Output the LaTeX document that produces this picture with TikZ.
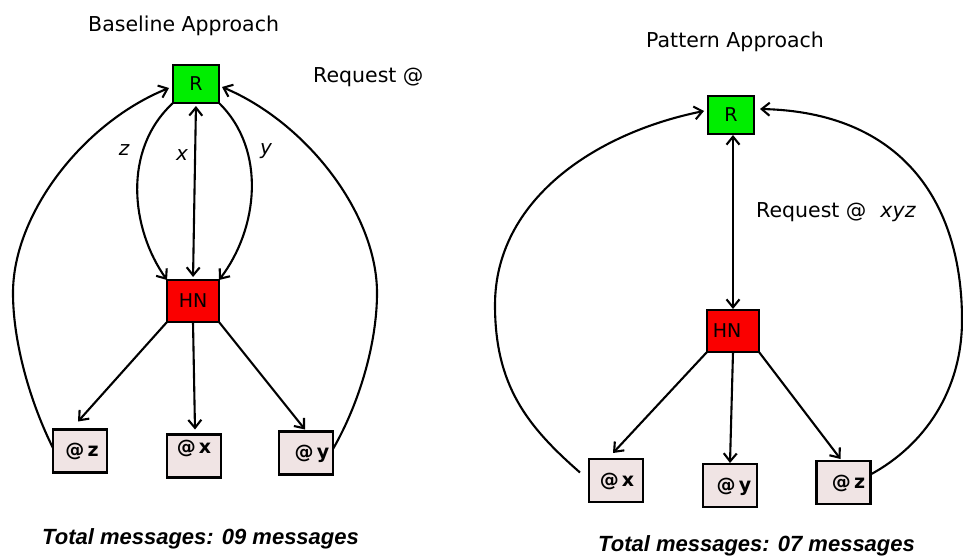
\documentclass[tikz,border=0pt]{standalone}
\usepackage{fontspec}
\setmainfont{DejaVu Sans}[ItalicFont={DejaVu Sans Oblique},BoldFont={DejaVu Sans Bold},BoldItalicFont={DejaVu Sans Bold Oblique}]
\newfontfamily\totalfont{Liberation Sans}
\usetikzlibrary{arrows.meta}
\definecolor{rgreen}{RGB}{0,238,0}
\definecolor{hred}{RGB}{250,0,0}
\definecolor{apink}{RGB}{240,228,228}
\begin{document}
\begin{tikzpicture}[x=1pt,y=-1pt,
  box/.style={draw=black,line width=2.8pt,inner sep=0pt,outer sep=0pt},
  rbox/.style={box,fill=rgreen,minimum width=46pt,minimum height=38pt,font=\fontsize{19}{22}\selectfont},
  hbox/.style={box,fill=hred,minimum width=52pt,minimum height=42pt,font=\fontsize{19}{22}\selectfont},
  abox/.style={box,fill=apink,minimum width=54pt,minimum height=43pt,text height=14pt,text depth=3pt,
    font=\fontsize{19}{22}\selectfont\bfseries},
  conn/.style={line width=2.1pt,-{Straight Barb[length=8pt,width=13pt]}},
  both/.style={line width=2.1pt,{Straight Barb[length=8pt,width=13pt]}-{Straight Barb[length=8pt,width=13pt]}},
  title/.style={anchor=base west,inner sep=0pt,font=\fontsize{20.5}{24}\selectfont},
  lbl/.style={inner sep=0pt,font=\fontsize{20}{24}\selectfont\itshape},
  total/.style={anchor=base west,inner sep=0pt,font=\fontsize{22}{26}\totalfont\bfseries\itshape}]
\useasboundingbox (0,0) rectangle (963,556);

% ---------- Baseline approach ----------
\node[title] (t1) at (88,32) {Baseline Approach};
\node[title] (q1) at (313,83) {Request @};

\node[rbox] (R) at (196,84) {R};
\node[hbox] (HN) at (193,301) {HN};
\node[abox] (az) at (80,451) {\hspace*{4pt}@\,z};
\node[abox,text depth=19pt] (ax) at (194,456) {@\,x};
\node[abox] (ay) at (306,453) {\hspace*{12pt}@\,y};

% requests from R to HN
\draw[conn] (R.south west) .. controls (122,150) and (131,229) .. (HN.north west);
\draw[both,shorten <=3pt,shorten >=3pt] (R.south) -- (HN.north);
\draw[conn] (R.south east) .. controls (267,150) and (258,229) .. (HN.north east);
\node[lbl] (lz) at (124,150) {z};
\node[lbl] (lx) at (182,155) {x};
\node[lbl] (ly) at (266,151) {y};

% HN forwards to the holders
\draw[conn] (HN.south west) -- ([xshift=-2pt,yshift=8pt]az.north);
\draw[conn] (HN.south) -- ([xshift=1pt,yshift=5pt]ax.north);
\draw[conn] (HN.south east) -- ([xshift=-1pt,yshift=2pt]ay.north);

% replies back to R
\coordinate (lw) at (13,293);
\coordinate (le) at (377,293);
\draw[conn] ([yshift=3pt]az.west) .. controls (30.5,403) and (13,343) .. (lw)
  .. controls (13,213) and (84.2,122.2) .. ([xshift=-4pt,yshift=-4pt]R.west);
\draw[conn] ([yshift=4pt]ay.east) .. controls (359.5,403) and (377,343) .. (le)
  .. controls (377,213) and (305.8,122.2) .. ([xshift=3pt,yshift=-3pt]R.east);

\node[total] (s1) at (42,544) {Total messages: 09 messages};

% ---------- Pattern approach ----------
\node[title] (t2) at (646,48) {Pattern Approach};
\node[rbox] (R2) at (731,115) {R};
\node[hbox] (HN2) at (733,331) {HN\hspace*{12pt}};
\node[abox] (px) at (616,480.5) {\hspace*{2pt}@\,x};
\node[abox] (py) at (730,485.5) {\hspace*{8pt}@\,y};
\node[abox] (pz) at (843.5,482.5) {\hspace*{10pt}@\,z};

\draw[both,shorten <=1pt,shorten >=1pt] ([xshift=2pt]R2.south) -- (HN2.north);
\node[title] (q2) at (756,218) {Request @\hspace{14pt}\textit{xyz}};

\draw[conn] (HN2.south west) -- ([xshift=-3pt,yshift=6pt]px.north);
\draw[conn] (HN2.south) -- ([yshift=1pt]py.north);
\draw[conn] (HN2.south east) -- ([xshift=-3pt,yshift=2pt]pz.north);

\coordinate (pw) at (495,305);
\coordinate (pe) at (962,320);
\draw[conn] ([xshift=-9pt,yshift=8pt]px.west) .. controls (526.5,425.8) and (495,385) .. (pw)
  .. controls (495,200) and (595,133) .. ([xshift=-4pt,yshift=4pt]R2.west);
\draw[conn] ([yshift=8pt]pz.east) .. controls (925,445) and (962,390) .. (pe)
  .. controls (962,200) and (900,112) .. ([xshift=6pt,yshift=6pt]R2.east);

\node[total] (s2) at (598,551) {Total messages: 07 messages};
\end{tikzpicture}
\end{document}
